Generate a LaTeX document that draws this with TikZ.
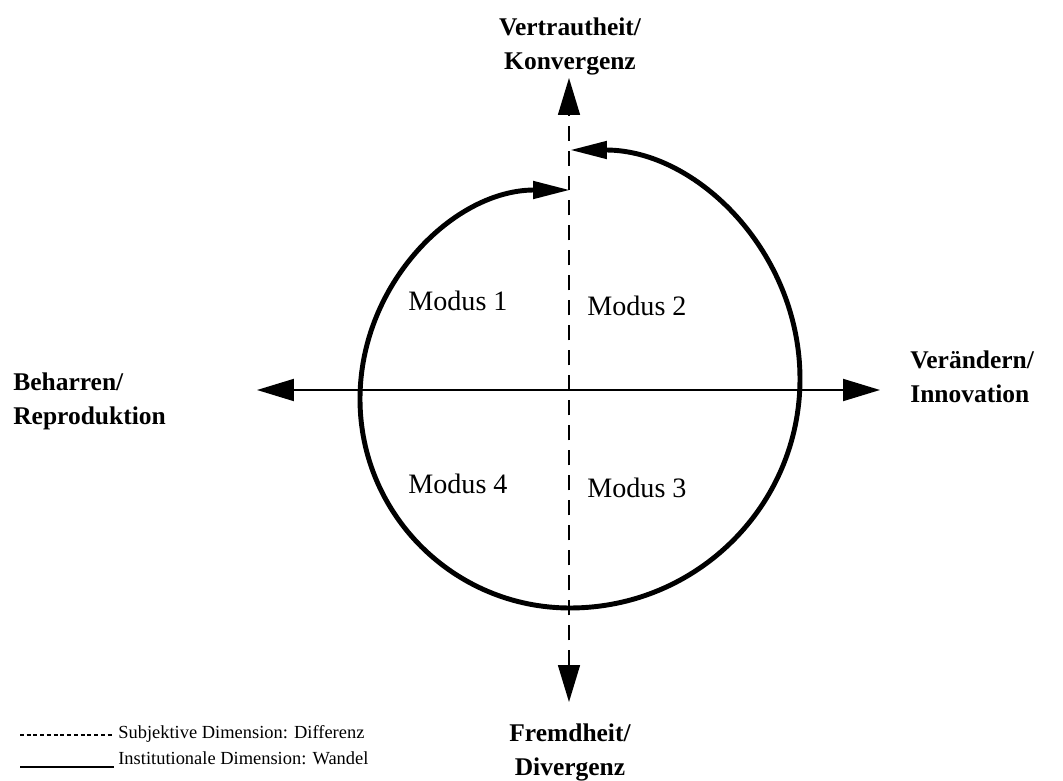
\documentclass[tikz,border=0pt]{standalone}
\usepackage{fontspec}
\setmainfont{Liberation Serif}
\usepackage{tikz}
\usetikzlibrary{arrows.meta}

\begin{document}
\begin{tikzpicture}[
  x=0.02cm, y=-0.02cm,
  pole/.style={font=\fontsize{14.5}{19.5}\selectfont\bfseries, inner sep=0pt},
  modus/.style={font=\fontsize{16}{19}\selectfont, anchor=base west, inner sep=0pt},
  legend/.style={font=\fontsize{10.5}{12}\selectfont, anchor=base west, inner sep=0pt},
  axis/.style={line width=1.1pt, {Triangle[length=0.74cm, width=0.44cm]}-{Triangle[length=0.74cm, width=0.44cm]}},
  loop/.style={line width=2.8pt, {Triangle[length=0.74cm, width=0.34cm]}-{Triangle[length=0.74cm, width=0.34cm]}}
]
  \useasboundingbox (0,0) rectangle (1063,781);

  \node[pole, anchor=north, align=center] (konv) at (570,17) {Vertrautheit/\\Konvergenz};
  \node[pole, anchor=north, align=center] (div) at (570,723) {Fremdheit/\\Divergenz};
  \node[pole, anchor=north west, align=left] (repro) at (13,372) {Beharren/\\Reproduktion};
  \node[pole, anchor=north west, align=left] (innov) at (910,350) {Verändern/\\Innovation};

  \node[modus] (m1) at (408,310) {Modus 1};
  \node[modus] (m2) at (587,315) {Modus 2};
  \node[modus] (m3) at (587,497) {Modus 3};
  \node[modus] (m4) at (408,493) {Modus 4};

  \coordinate (axN) at (569,78);
  \coordinate (axS) at (569,702);
  \coordinate (axW) at (257,390);
  \coordinate (axE) at (880,390);
  \draw[axis] (axW) -- (axE);
  \draw[axis, line width=0.9pt, dash pattern=on 0.3cm off 0.2cm] (axS) -- (axN);

  \coordinate (loopstart) at (570,150);
  \draw[loop] (loopstart) arc[start angle=-90, end angle=90, x radius=230, y radius=229]
    arc[start angle=90, end angle=270, x radius=210, y radius=209];

  \coordinate (dashA) at (20,735);
  \coordinate (dashB) at (114,735);
  \coordinate (lineA) at (20,767);
  \coordinate (lineB) at (114,767);
  \draw[line width=0.6pt, dash pattern=on 0.08cm off 0.055cm] (dashA) -- (dashB);
  \draw[line width=0.8pt] (lineA) -- (lineB);
  \node[legend] (leg1) at (118,738) {Subjektive Dimension: Differenz};
  \node[legend] (leg2) at (118,764) {Institutionale Dimension: Wandel};
\end{tikzpicture}
\end{document}
